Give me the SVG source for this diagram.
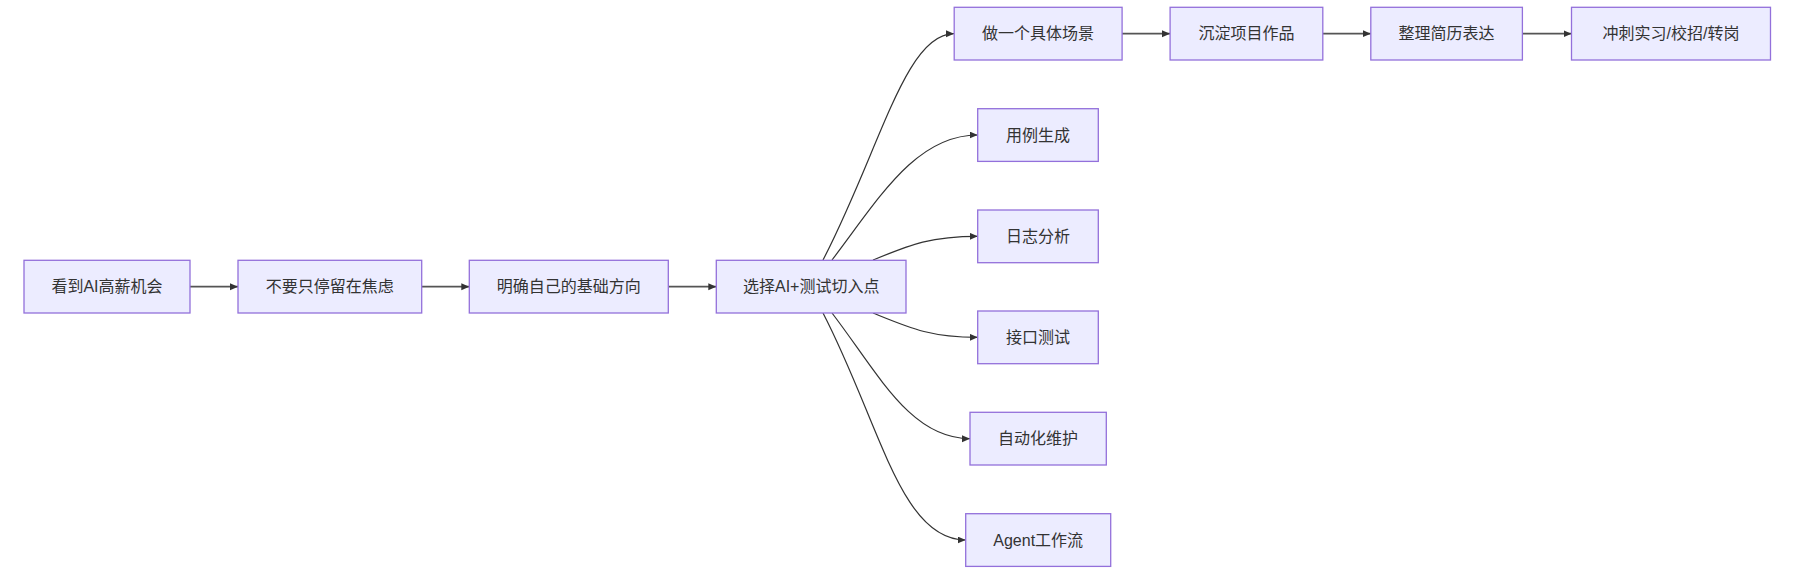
<svg xmlns="http://www.w3.org/2000/svg" width="1795" height="574" viewBox="0 0 1795 574">
<style>
.node rect{fill:#ECECFF;stroke:#9370DB;stroke-width:1.3}
.node text{font-family:"Liberation Sans","Noto Sans CJK SC",sans-serif;font-size:16px;fill:#333;text-anchor:middle;dominant-baseline:central}
.edge{fill:none;stroke:#333;stroke-width:1.2}
.straight{stroke:#555;stroke-width:1.7}
</style>
<defs>
<marker id="arr" markerUnits="userSpaceOnUse" markerWidth="9" markerHeight="8" refX="8" refY="3.5" orient="auto">
<path d="M0,0 L8,3.5 L0,7 z" fill="#333"/>
</marker>
</defs>
<rect width="1795" height="574" fill="#fff"/>
<g id="connectors">
<path class="edge straight" d="M190,286.7 L238,286.7" marker-end="url(#arr)"/>
<path class="edge straight" d="M421.7,286.7 L469.3,286.7" marker-end="url(#arr)"/>
<path class="edge straight" d="M668.3,286.7 L716.3,286.7" marker-end="url(#arr)"/>
<path class="edge straight" d="M1122,33.7 L1170,33.7" marker-end="url(#arr)"/>
<path class="edge straight" d="M1322.8,33.7 L1370.8,33.7" marker-end="url(#arr)"/>
<path class="edge straight" d="M1522.4,33.7 L1571.5,33.7" marker-end="url(#arr)"/>
<path class="edge" d="M823,260 C880,150 905,33.7 954,33.7" marker-end="url(#arr)"/>
<path class="edge" d="M832,260 C878,200 915,135 977.7,135" marker-end="url(#arr)"/>
<path class="edge" d="M873,260 C910,245 930,236.3 977.7,236.3" marker-end="url(#arr)"/>
<path class="edge" d="M873,313 C910,328 930,337.3 977.7,337.3" marker-end="url(#arr)"/>
<path class="edge" d="M832,313 C878,373 910,438.7 970,438.7" marker-end="url(#arr)"/>
<path class="edge" d="M823,313 C880,423 900,540 965.7,540" marker-end="url(#arr)"/>
</g>
<g id="n1" class="node"><rect x="24" y="260.3" width="166" height="52.7"/><text x="107" y="286.7">看到AI高薪机会</text></g>
<g id="n2" class="node"><rect x="238" y="260.3" width="183.7" height="52.7"/><text x="329.8" y="286.7">不要只停留在焦虑</text></g>
<g id="n3" class="node"><rect x="469.3" y="260.3" width="199" height="52.7"/><text x="568.8" y="286.7">明确自己的基础方向</text></g>
<g id="n4" class="node"><rect x="716.3" y="260.3" width="189.7" height="52.7"/><text x="811.2" y="286.7">选择AI+测试切入点</text></g>
<g id="n5" class="node"><rect x="954.2" y="7.3" width="167.9" height="52.7"/><text x="1038.1" y="33.7">做一个具体场景</text></g>
<g id="n6" class="node"><rect x="1170.1" y="7.3" width="152.7" height="52.7"/><text x="1246.5" y="33.7">沉淀项目作品</text></g>
<g id="n7" class="node"><rect x="1370.8" y="7.3" width="151.6" height="52.7"/><text x="1446.6" y="33.7">整理简历表达</text></g>
<g id="n8" class="node"><rect x="1571.5" y="7.3" width="199" height="52.7"/><text x="1671" y="33.7">冲刺实习/校招/转岗</text></g>
<g id="c1" class="node"><rect x="977.7" y="108.7" width="120.6" height="52.7"/><text x="1038" y="135">用例生成</text></g>
<g id="c2" class="node"><rect x="977.7" y="210" width="120.6" height="52.7"/><text x="1038" y="236.3">日志分析</text></g>
<g id="c3" class="node"><rect x="977.7" y="311" width="120.6" height="52.7"/><text x="1038" y="337.3">接口测试</text></g>
<g id="c4" class="node"><rect x="970" y="412.3" width="136.3" height="52.7"/><text x="1038.1" y="438.7">自动化维护</text></g>
<g id="c5" class="node"><rect x="965.7" y="513.7" width="145" height="52.7"/><text x="1038.2" y="540">Agent工作流</text></g>
</svg>
